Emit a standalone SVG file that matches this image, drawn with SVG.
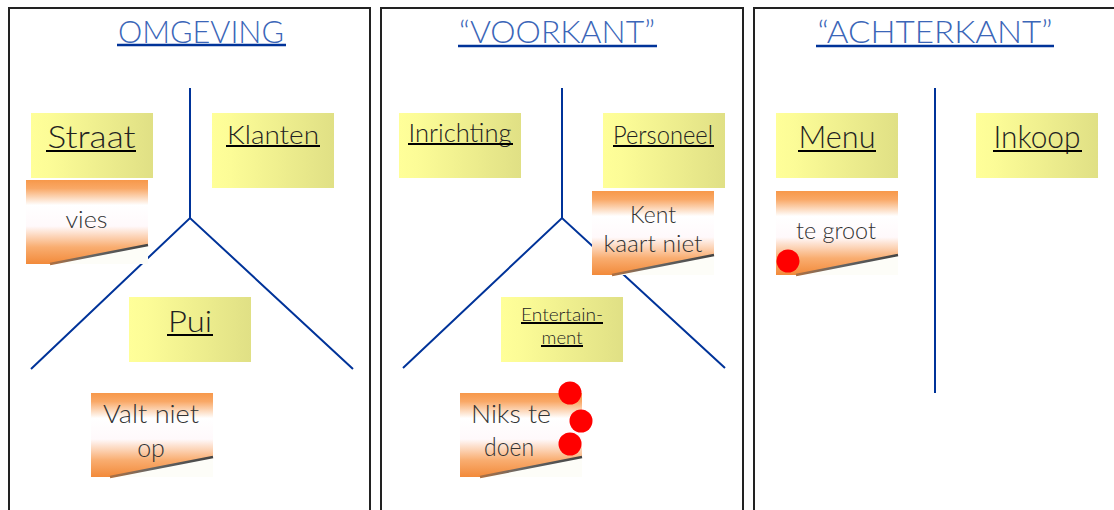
<svg xmlns="http://www.w3.org/2000/svg" width="1114" height="510" viewBox="0 0 1114 510">
<defs>
<linearGradient id="yel" x1="0" y1="0" x2="1" y2="0">
<stop offset="0" stop-color="#ffff99"/><stop offset="0.15" stop-color="#fcfc97"/><stop offset="1" stop-color="#e0e085"/>
</linearGradient>
<linearGradient id="org" x1="0" y1="0" x2="0" y2="1">
<stop offset="0" stop-color="#f7984a"/><stop offset="0.1" stop-color="#f9a866"/><stop offset="0.3" stop-color="#ffffff"/><stop offset="0.55" stop-color="#fff9fb"/><stop offset="0.8" stop-color="#f9ad70"/><stop offset="1" stop-color="#f28a3a"/>
</linearGradient>
<linearGradient id="curl" x1="0" y1="0" x2="1" y2="0">
<stop offset="0" stop-color="#b07040"/><stop offset="0.4" stop-color="#666"/><stop offset="1" stop-color="#444"/>
</linearGradient>
</defs>
<style>
.panel{fill:#fff;stroke:#222;stroke-width:2}
.axis{stroke:#003399;stroke-width:2;fill:none}
.title{font-family:Lato,"Liberation Sans",sans-serif;font-weight:300;font-size:32px;fill:#3b66b8;text-anchor:middle}
.tul{stroke:#003399;stroke-width:2.5}
.head{font-family:Lato,"Liberation Sans",sans-serif;font-weight:300;fill:#222;text-anchor:middle}
.hul{stroke:#000;stroke-width:2}
.note{font-family:Lato,"Liberation Sans",sans-serif;font-weight:300;fill:#333;text-anchor:middle}
.white{fill:#fdfdf8}
.streak{stroke:url(#curl);stroke-width:2.5}
.dot{fill:#ff0000}
</style>
<g id="panels">
<rect class="panel" x="9" y="8" width="361" height="520"/>
<rect class="panel" x="381" y="8" width="362" height="520"/>
<rect class="panel" x="754" y="8" width="370" height="520"/>
</g>
<g id="titles">
<text class="title" x="201" y="43" textLength="166" lengthAdjust="spacingAndGlyphs">OMGEVING</text><line class="tul" x1="117" y1="45" x2="286" y2="45"/>
<text class="title" x="557" y="43" textLength="196" lengthAdjust="spacingAndGlyphs">“VOORKANT”</text><line class="tul" x1="458" y1="46" x2="657" y2="46"/>
<text class="title" x="935" y="43" textLength="235" lengthAdjust="spacingAndGlyphs">“ACHTERKANT”</text><line class="tul" x1="816" y1="46" x2="1054" y2="46"/>
</g>
<g id="connectors">
<polyline class="axis" points="190,88 190,218"/>
<polyline class="axis" points="31,369 190,218 353,369"/>
<polyline class="axis" points="562,88 562,218"/>
<polyline class="axis" points="403,368 562,218 725,368"/>
<line class="axis" x1="935" y1="88" x2="935" y2="393"/>
</g>
<g id="straat"><rect x="31" y="113" width="122" height="65" fill="url(#yel)"/><text class="head" x="91.5" y="148" font-size="31" textLength="88" lengthAdjust="spacingAndGlyphs">Straat</text><line class="hul" x1="46" y1="151" x2="136" y2="151"/></g>
<g id="klanten"><rect x="212" y="113" width="122" height="75" fill="url(#yel)"/><text class="head" x="273" y="144" font-size="26" textLength="92" lengthAdjust="spacingAndGlyphs">Klanten</text><line class="hul" x1="226" y1="146" x2="320" y2="146"/></g>
<g id="vies"><rect x="26" y="180" width="122" height="84" fill="url(#org)"/><polygon class="white" points="52,264 148,245 148,264"/><line class="streak" x1="50" y1="264" x2="148" y2="245"/><text class="note" x="86.5" y="228" font-size="24" textLength="42" lengthAdjust="spacingAndGlyphs">vies</text></g>
<g id="pui"><rect x="129" y="297" width="122" height="65" fill="url(#yel)"/><text class="head" x="190" y="332" font-size="30" textLength="44" lengthAdjust="spacingAndGlyphs">Pui</text><line class="hul" x1="167" y1="335" x2="213" y2="335"/></g>
<g id="valtnietop"><rect x="91" y="393" width="122" height="84" fill="url(#org)"/><polygon class="white" points="113,477 213,457 213,477"/><line class="streak" x1="110" y1="477" x2="213" y2="457"/><text class="note" x="151" y="423" font-size="25" textLength="96" lengthAdjust="spacingAndGlyphs">Valt niet</text><text class="note" x="151" y="457" font-size="25">op</text></g>
<g id="inrichting"><rect x="399" y="113" width="122" height="65" fill="url(#yel)"/><text class="head" x="460" y="142" font-size="25" textLength="103" lengthAdjust="spacingAndGlyphs">Inrichting</text><line class="hul" x1="408" y1="144" x2="513" y2="144"/></g>
<g id="personeel"><rect x="603" y="113" width="122" height="75" fill="url(#yel)"/><text class="head" x="663" y="144" font-size="26" textLength="100" lengthAdjust="spacingAndGlyphs">Personeel</text><line class="hul" x1="613" y1="146" x2="714" y2="146"/></g>
<g id="kentkaartniet"><rect x="592" y="191" width="122" height="84" fill="url(#org)"/><polygon class="white" points="614,275 714,255 714,275"/><line class="streak" x1="612" y1="275" x2="714" y2="255"/><text class="note" x="653" y="223" font-size="23" textLength="46" lengthAdjust="spacingAndGlyphs">Kent</text><text class="note" x="653" y="252" font-size="23" textLength="99" lengthAdjust="spacingAndGlyphs">kaart niet</text></g>
<g id="entertainment"><rect x="501" y="297" width="122" height="65" fill="url(#yel)"/><text class="head" x="562" y="321" font-size="17" textLength="82" lengthAdjust="spacingAndGlyphs">Entertain-</text><line class="hul" x1="521" y1="323" x2="603" y2="323" stroke-width="1.5"/><text class="head" x="562" y="344" font-size="17" textLength="41" lengthAdjust="spacingAndGlyphs">ment</text><line class="hul" x1="541" y1="346" x2="583" y2="346" stroke-width="1.5"/></g>
<g id="nikstedoen"><rect x="460" y="393" width="122" height="84" fill="url(#org)"/><polygon class="white" points="482,477 582,457 582,477"/><line class="streak" x1="480" y1="477" x2="582" y2="457"/><text class="note" x="511" y="423" font-size="26" textLength="80" lengthAdjust="spacingAndGlyphs">Niks te</text><text class="note" x="509" y="456" font-size="26" textLength="50" lengthAdjust="spacingAndGlyphs">doen</text><circle class="dot" cx="570" cy="393" r="11.5"/><circle class="dot" cx="581" cy="421" r="11.5"/><circle class="dot" cx="570" cy="444" r="11.5"/></g>
<g id="menu"><rect x="776" y="113" width="122" height="65" fill="url(#yel)"/><text class="head" x="837" y="148" font-size="31" textLength="77" lengthAdjust="spacingAndGlyphs">Menu</text><line class="hul" x1="798" y1="151" x2="876" y2="151"/></g>
<g id="inkoop"><rect x="976" y="113" width="122" height="65" fill="url(#yel)"/><text class="head" x="1037" y="148" font-size="31" textLength="87" lengthAdjust="spacingAndGlyphs">Inkoop</text><line class="hul" x1="993" y1="151" x2="1082" y2="151"/></g>
<g id="tegroot"><rect x="776" y="191" width="122" height="84" fill="url(#org)"/><polygon class="white" points="798,275 898,255 898,275"/><line class="streak" x1="796" y1="275" x2="898" y2="255"/><text class="note" x="836" y="239" font-size="23" textLength="80" lengthAdjust="spacingAndGlyphs">te groot</text><circle class="dot" cx="788" cy="261" r="11.5"/></g>
</svg>
